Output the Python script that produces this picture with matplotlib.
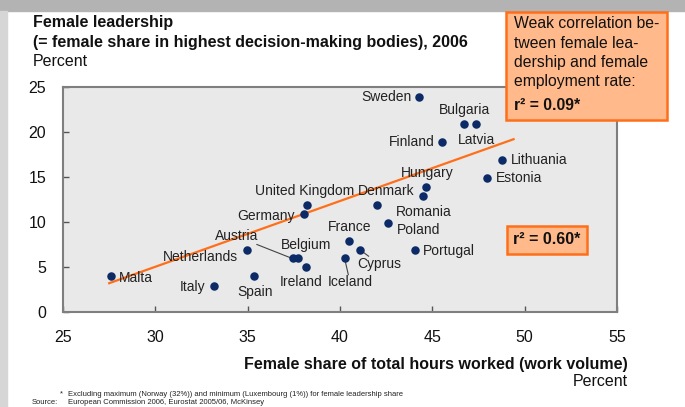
import matplotlib
matplotlib.use("Agg")
import matplotlib.pyplot as plt
from matplotlib.patches import Rectangle

plt.rcParams["font.family"] = ["Liberation Sans", "DejaVu Sans"]

# ---------------------------------------------------------
# Data
# ---------------------------------------------------------
countries = ["Malta", "Italy", "Netherlands", "Spain", "Austria", "Belgium",
             "Ireland", "Germany", "United Kingdom", "France", "Iceland",
             "Cyprus", "Romania", "Poland", "Portugal", "Denmark", "Hungary",
             "Sweden", "Finland", "Bulgaria", "Latvia", "Estonia", "Lithuania"]
work_volume = [27.6, 33.15, 34.95, 35.35, 37.45, 37.75, 38.15, 38.05, 38.2,
               40.5, 40.25, 41.1, 42.0, 42.6, 44.05, 44.5, 44.65, 44.3, 45.5,
               46.7, 47.35, 47.95, 48.75]
leadership = [4.0, 2.9, 6.9, 4.0, 6.0, 6.0, 5.0, 10.9, 11.9, 7.9, 6.0, 6.9,
              11.9, 9.9, 6.9, 12.9, 13.9, 23.9, 18.9, 20.9, 20.9, 14.9, 16.9]

trend_x = [27.5, 49.4]
trend_y = [3.2, 19.2]

x_ticks = [25, 30, 35, 40, 45, 50, 55]
y_ticks = [0, 5, 10, 15, 20, 25]

# label anchor (x, y, ha) in data coords
label_pos = {
    "Malta": (28.05, 3.75, "left"),
    "Italy": (32.7, 2.8, "right"),
    "Netherlands": (34.5, 6.15, "right"),
    "Spain": (35.38, 2.25, "center"),
    "Austria": (34.4, 8.4, "center"),
    "Belgium": (38.15, 7.4, "center"),
    "Ireland": (37.9, 3.3, "center"),
    "Germany": (37.55, 10.7, "right"),
    "United Kingdom": (35.4, 13.45, "left"),
    "France": (40.5, 9.45, "center"),
    "Iceland": (40.57, 3.3, "center"),
    "Cyprus": (42.15, 5.3, "center"),
    "Romania": (43.05, 11.15, "left"),
    "Poland": (43.07, 9.1, "left"),
    "Portugal": (44.5, 6.8, "left"),
    "Denmark": (44.05, 13.45, "right"),
    "Hungary": (44.7, 15.4, "center"),
    "Sweden": (43.9, 23.9, "right"),
    "Finland": (45.1, 18.9, "right"),
    "Bulgaria": (46.75, 22.4, "center"),
    "Latvia": (46.4, 19.1, "left"),
    "Estonia": (48.45, 14.85, "left"),
    "Lithuania": (49.25, 16.9, "left"),
}
leaders = [((35.5, 7.5), (37.35, 6.0)),
           ((40.3, 5.5), (40.45, 4.15)),
           ((41.15, 6.8), (41.55, 6.2))]

NAVY = "#0b2a66"
ORANGE = "#ff6f1a"
BOX_FILL = "#ffb98a"

# ---------------------------------------------------------
# Figure
# ---------------------------------------------------------
fig = plt.figure(figsize=(6.85, 4.07), dpi=100)
W, H = 685, 407

# grey frame around slide
fig.patches.append(Rectangle((0, 1 - 11 / H), 1, 11 / H, transform=fig.transFigure,
                             color="#b3b3b3", zorder=0))
fig.patches.append(Rectangle((0, 0), 7 / W, 1 - 11 / H, transform=fig.transFigure,
                             color="#d6d6d6", zorder=0))

ax = fig.add_axes([63 / W, 1 - 312 / H, (617 - 63) / W, (312 - 87) / H])
ax.set_facecolor("#e9e9e9")
ax.set_xlim(25, 55)
ax.set_ylim(0, 25)
ax.set_xticks(x_ticks)
ax.set_yticks(y_ticks)
ax.tick_params(direction="in", length=4, width=1, color="#555555",
               labelsize=11.5, labelcolor="#111111")
ax.tick_params(axis="x", pad=13)
ax.tick_params(axis="y", pad=12)
for s in ax.spines.values():
    s.set_color("#7f7f7f")
    s.set_linewidth(1.5)

ax.plot(trend_x, trend_y, color=ORANGE, lw=1.6, zorder=2)
ax.scatter(work_volume, leadership, s=26, color=NAVY, zorder=3)

for name in countries:
    lx, ly, ha = label_pos[name]
    ax.text(lx, ly, name, ha=ha, va="center", fontsize=10, color="#222222", zorder=4)
for (x0, y0), (x1, y1) in leaders:
    ax.plot([x0, x1], [y0, y1], color="#444444", lw=0.8, zorder=2)

ax.text(51.2, 8.0, "r² = 0.60*", ha="center", va="center", fontsize=11.5,
        fontweight="bold", color="#111111",
        bbox=dict(boxstyle="square,pad=0.4", fc=BOX_FILL, ec=ORANGE, lw=1.8))

# titles
fig.text(33 / W, 1 - 23 / H, "Female leadership", fontsize=11.5,
         fontweight="bold", va="center", color="#111111")
fig.text(33 / W, 1 - 43 / H, "(= female share in highest decision-making bodies), 2006",
         fontsize=11.5, fontweight="bold", va="center", color="#111111")
fig.text(33 / W, 1 - 62 / H, "Percent", fontsize=11.5, va="center", color="#111111")

fig.text(628 / W, 1 - 364 / H, "Female share of total hours worked (work volume)",
         fontsize=11.5, fontweight="bold", ha="right", va="center", color="#111111")
fig.text(628 / W, 1 - 381 / H, "Percent", fontsize=11.5, ha="right", va="center",
         color="#111111")

# top-right comment box
fig.patches.append(Rectangle((506 / W, 1 - 120 / H), (667 - 506) / W, (120 - 12) / H,
                             transform=fig.transFigure, fc=BOX_FILL, ec=ORANGE,
                             lw=1.8, zorder=5))
box_lines = ["Weak correlation be-", "tween female lea-", "dership and female",
             "employment rate:"]
for i, line in enumerate(box_lines):
    fig.text(514 / W, 1 - (24 + 19.3 * i) / H, line, fontsize=11.3, va="center",
             color="#111111", zorder=6)
fig.text(514 / W, 1 - 106 / H, "r² = 0.09*", fontsize=11.3, fontweight="bold",
         va="center", color="#111111", zorder=6)

# footnotes
fig.text(60 / W, 1 - 394 / H, "*", fontsize=5.5, va="center", color="#222222")
fig.text(68 / W, 1 - 394 / H,
         "Excluding maximum (Norway (32%)) and minimum (Luxembourg (1%)) for female leadership share",
         fontsize=5.5, va="center", color="#222222")
fig.text(32 / W, 1 - 402 / H, "Source:", fontsize=5.5, va="center", color="#222222")
fig.text(68 / W, 1 - 402 / H, "European Commission 2006, Eurostat 2005/06, McKinsey",
         fontsize=5.5, va="center", color="#222222")

fig.savefig("out.png", dpi=100)
